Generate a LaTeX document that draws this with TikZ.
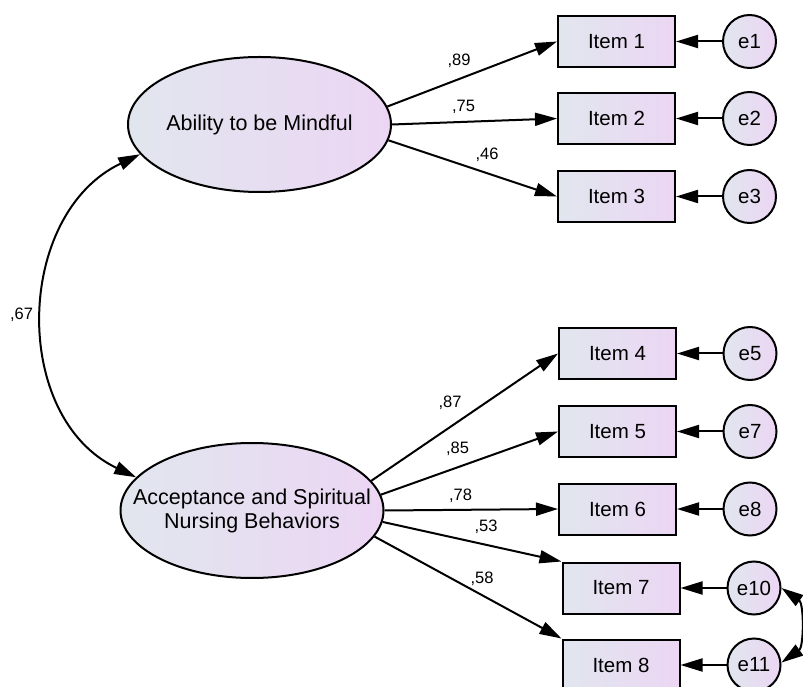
\documentclass[tikz,border=0pt]{standalone}
\usepackage{fontspec}
\setmainfont{Liberation Sans}
\usetikzlibrary{arrows.meta}
\usetikzlibrary{shapes.geometric}

\definecolor{fillleft}{RGB}{225,230,238}
\definecolor{fillright}{RGB}{236,214,244}

\begin{document}
\begin{tikzpicture}[x=1pt,y=1pt,
  every node/.style={font=\fontsize{20.5}{23}\selectfont},
  latent/.style={ellipse,draw,line width=2pt,left color=fillleft,right color=fillright,
    minimum width=263pt,minimum height=135pt,inner sep=0pt},
  latentname/.style={align=center,font=\fontsize{21.5}{24}\selectfont},
  observed/.style={rectangle,draw,line width=2pt,left color=fillleft,right color=fillright,
    minimum width=117pt,minimum height=51pt,inner sep=0pt},
  error/.style={circle,draw,line width=2pt,left color=fillleft,right color=fillright,
    minimum size=53pt,inner sep=0pt},
  link/.style={line width=2pt,-{Triangle[length=22pt,width=13pt]}},
  cov/.style={line width=2pt,{Triangle[length=22pt,width=13pt]}-{Triangle[length=22pt,width=13pt]}},
  coef/.style={font=\fontsize{16.5}{19}\selectfont,inner sep=0pt}]
  \useasboundingbox (0,0) rectangle (803,686);

  % latent variables
  \node[latent] (mind) at (259.5,561.5) {};
  \node[latentname] (mindtext) at (mind.center) {Ability to be Mindful};
  \node[latent] (accept) at (252,175.5) {};
  \node[latentname] (accepttext) at (accept.center) {Acceptance and Spiritual\\Nursing Behaviors};

  % items
  \node[observed] (item1) at (616.5,644.5) {Item 1};
  \node[observed] (item2) at (616.5,567.5) {Item 2};
  \node[observed] (item3) at (616.5,489.5) {Item 3};
  \node[observed] (item4) at (617.5,332.5) {Item 4};
  \node[observed] (item5) at (617.5,254.5) {Item 5};
  \node[observed] (item6) at (617.5,177) {Item 6};
  \node[observed] (item7) at (621,98) {Item 7};
  \node[observed] (item8) at (621,21) {Item 8};

  % errors
  \node[error] (e1) at (749.5,644.5) {e1};
  \node[error] (e2) at (749.5,567.5) {e2};
  \node[error] (e3) at (749.5,489.5) {e3};
  \node[error] (e5) at (750,332.5) {e5};
  \node[error] (e7) at (750,254.5) {e7};
  \node[error] (e8) at (750,177) {e8};
  \node[error] (e10) at (754,98) {e10};
  \node[error] (e11) at (754,21) {e11};

  % loadings
  \draw[link] (mind.8) -- (item1.west);
  \draw[link] (mind.0) -- (item2.west);
  \draw[link] (mind.-7) -- (item3.west);
  \draw[link] (accept.14) -- (item4.west);
  \draw[link] (accept.7.7) -- (item5.west);
  \draw[link] (accept.0) -- (item6.west);
  \draw[link] (accept.-5) -- (item7.north west);
  \draw[link] (accept.-12.6) -- (item8.north west);

  \draw[link] (e1) -- (item1);
  \draw[link] (e2) -- (item2);
  \draw[link] (e3) -- (item3);
  \draw[link] (e5) -- (item4);
  \draw[link] (e7) -- (item5);
  \draw[link] (e8) -- (item6);
  \draw[link] (e10) -- (item7);
  \draw[link] (e11) -- (item8);

  % covariances
  \draw[cov] (mind.194) to[out=205.5,in=154.5,looseness=1.1] (accept.164);
  \draw[cov] (e10.0) to[out=-35,in=35,looseness=0.95] (e11.5);

  % estimates
  \node[coef] (c89) at (459,625) {,89};
  \node[coef] (c75) at (463.5,579) {,75};
  \node[coef] (c46) at (487,531) {,46};
  \node[coef] (c87) at (450,283) {,87};
  \node[coef] (c85) at (457.5,237) {,85};
  \node[coef] (c78) at (460.5,190) {,78};
  \node[coef] (c53) at (486,159) {,53};
  \node[coef] (c58) at (482,107) {,58};
  \node[coef] (c67) at (21.5,371) {,67};
\end{tikzpicture}
\end{document}
